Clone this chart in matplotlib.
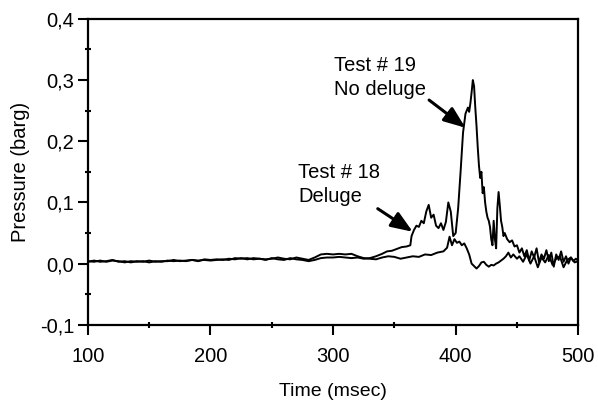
import matplotlib
matplotlib.use("Agg")
import matplotlib.pyplot as plt
from matplotlib.ticker import MultipleLocator, FuncFormatter

# Test #19 (no deluge)
t19 = [100,105,110,115,120,125,130,135,140,145,150,155,160,165,170,175,180,185,190,195,
       200,205,210,215,220,225,230,235,240,245,250,255,260,265,270,275,280,285,290,295,
       300,305,310,315,320,325,330,335,340,344,348,352,356,360,363,364,366,368,370,372,
       374,376,378,380,382,384,386,388,390,392,394,396,398,400,402,404,406,408,410,411,
       412,413,414,415,416,417,418,419,420,421,422,423,424,425,426,427,428,429,430,431,
       432,433,434,435,436,437,438,439,440,442,444,446,448,450,452,454,456,458,460,462,
       464,466,468,470,472,474,476,478,480,482,484,486,488,490,492,494,496,498,500]
p19 = [0.004,0.003,0.005,0.003,0.005,0.004,0.002,0.004,0.003,0.004,0.002,0.004,0.003,0.005,0.004,0.005,0.004,0.006,0.005,0.006,
       0.005,0.006,0.007,0.006,0.009,0.008,0.009,0.007,0.008,0.006,0.009,0.007,0.006,0.009,0.007,0.006,0.004,0.006,0.009,0.010,
       0.010,0.011,0.010,0.009,0.010,0.008,0.009,0.012,0.016,0.020,0.021,0.024,0.027,0.028,0.030,0.045,0.055,0.062,0.060,0.070,
       0.066,0.085,0.096,0.075,0.080,0.062,0.058,0.066,0.055,0.068,0.100,0.085,0.045,0.050,0.090,0.150,0.214,0.245,0.255,0.248,
       0.262,0.280,0.300,0.290,0.255,0.225,0.190,0.160,0.140,0.150,0.115,0.125,0.100,0.085,0.075,0.070,0.060,0.040,0.030,0.070,
       0.040,0.025,0.090,0.117,0.095,0.070,0.060,0.045,0.050,0.040,0.035,0.038,0.028,0.030,0.018,0.025,0.012,0.022,0.005,0.020,
       0.010,0.025,0.002,0.015,0.008,0.022,0.004,0.018,-0.005,0.015,0.006,0.020,0.003,0.012,0.000,0.010,0.004,0.008,0.005]

# Test #18 (deluge)
t18 = [100,105,110,115,120,125,130,135,140,145,150,155,160,165,170,175,180,185,190,195,
       200,205,210,215,220,225,230,235,240,245,250,255,260,265,270,275,280,285,290,295,
       300,305,310,315,320,325,330,335,340,345,350,355,360,365,370,375,380,385,390,393,
       395,397,399,401,403,405,407,409,411,413,415,417,419,421,423,425,427,429,431,433,
       435,437,439,441,443,445,447,450,452,455,458,461,464,467,470,473,476,479,482,485,
       488,491,494,497,500]
p18 = [0.003,0.005,0.003,0.004,0.006,0.003,0.004,0.002,0.004,0.003,0.005,0.003,0.004,0.004,0.006,0.004,0.005,0.006,0.004,0.007,
       0.006,0.007,0.006,0.008,0.007,0.009,0.007,0.009,0.008,0.007,0.008,0.010,0.008,0.007,0.010,0.008,0.006,0.010,0.015,0.016,
       0.015,0.016,0.015,0.016,0.012,0.009,0.008,0.007,0.010,0.012,0.011,0.008,0.010,0.012,0.011,0.015,0.014,0.018,0.020,0.026,
       0.044,0.030,0.040,0.034,0.036,0.030,0.033,0.025,0.015,0.000,-0.004,-0.008,-0.004,0.002,0.003,-0.002,-0.005,-0.002,-0.003,0.000,
       0.002,0.005,0.008,0.012,0.018,0.010,0.015,0.008,0.012,0.003,0.015,0.000,0.012,-0.006,0.010,0.002,0.014,-0.002,0.008,0.012,
       -0.006,0.006,0.010,0.002,0.004]

fig = plt.figure(figsize=(5.98, 4.01), dpi=100)
ax = fig.add_axes([0.147, 0.19, 0.82, 0.763])
plt.rcParams['font.family'] = ['Liberation Sans', 'DejaVu Sans']
font = 'Liberation Sans'

ax.plot(t18, p18, color='black', lw=1.4)
ax.plot(t19, p19, color='black', lw=1.4)

ax.set_xlim(100, 500)
ax.set_ylim(-0.1, 0.4)
ax.xaxis.set_major_locator(MultipleLocator(100))
ax.xaxis.set_minor_locator(MultipleLocator(50))
ax.yaxis.set_major_locator(MultipleLocator(0.1))
ax.yaxis.set_minor_locator(MultipleLocator(0.05))
ax.yaxis.set_major_formatter(FuncFormatter(lambda v, p: f"{v:.1f}".replace('.', ',').replace('-0,0', '0,0')))
ax.tick_params(which='major', direction='out', length=7, width=1.5, labelsize=14.5)
ax.tick_params(axis='x', which='major', pad=9)
ax.tick_params(axis='y', which='major', pad=3)
ax.tick_params(which='minor', direction='inout', length=5, width=1.5)
for lbl in ax.get_xticklabels() + ax.get_yticklabels():
    lbl.set_family(font)
for s in ax.spines.values():
    s.set_linewidth(1.6)

ax.set_xlabel('Time (msec)', fontsize=14, family=font, labelpad=12)
ax.set_ylabel('Pressure (barg)', fontsize=14.5, family=font, labelpad=7)

ax.annotate('Test # 19\nNo deluge', xy=(408, 0.222), xytext=(301, 0.34),
            fontsize=14.5, family=font, va='top', ha='left', linespacing=1.35,
            arrowprops=dict(arrowstyle='-|>,head_width=0.35,head_length=0.9', color='black', lw=2.2,
                            shrinkA=0, shrinkB=0, relpos=(0.92, 0.15)))
ax.annotate('Test # 18\nDeluge', xy=(365, 0.052), xytext=(271.5, 0.165),
            fontsize=14.5, family=font, va='top', ha='left', linespacing=1.35,
            arrowprops=dict(arrowstyle='-|>,head_width=0.35,head_length=0.9', color='black', lw=2.2,
                            shrinkA=0, shrinkB=0, relpos=(0.72, 0.25)))

fig.savefig('out.png', dpi=100)
